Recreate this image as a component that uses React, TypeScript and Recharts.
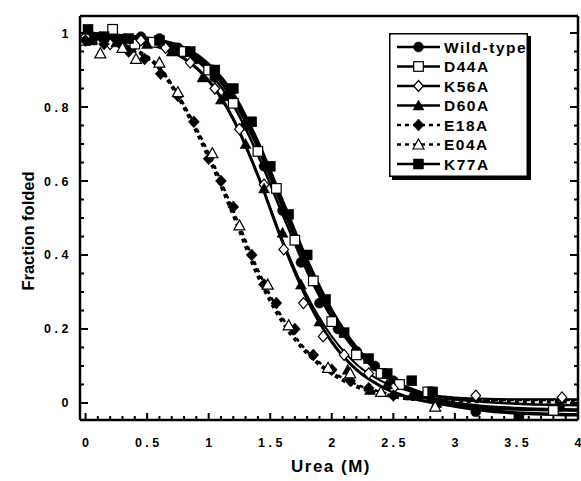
import { ComposedChart, Line, Scatter, XAxis, YAxis, Legend, Label } from 'recharts'

const FONT = '"Liberation Sans", Arial, Helvetica, sans-serif'

const CURVE_X = [0, 0.2, 0.4, 0.6, 0.8, 1.0, 1.2, 1.4, 1.6, 1.8, 2.0, 2.2, 2.4, 2.6, 2.8, 3.0, 3.2, 3.5, 4.0]

const WT_CURVE = [0.995, 0.99, 0.985, 0.975, 0.955, 0.905, 0.82, 0.69, 0.53, 0.37, 0.24, 0.145, 0.082, 0.042, 0.015, 0.0, -0.008, -0.014, -0.018]
const D44A_CURVE = [0.99, 0.988, 0.982, 0.972, 0.95, 0.895, 0.805, 0.67, 0.51, 0.355, 0.23, 0.14, 0.08, 0.045, 0.022, 0.01, 0.004, -0.002, -0.006]
const K56A_CURVE = [0.985, 0.98, 0.975, 0.96, 0.93, 0.87, 0.765, 0.615, 0.44, 0.29, 0.18, 0.105, 0.06, 0.035, 0.022, 0.015, 0.012, 0.01, 0.01]
const D60A_CURVE = [0.99, 0.985, 0.978, 0.963, 0.932, 0.872, 0.768, 0.615, 0.435, 0.28, 0.165, 0.09, 0.045, 0.018, 0.002, -0.008, -0.013, -0.017, -0.02]
const E18A_CURVE = [0.985, 0.975, 0.955, 0.905, 0.8, 0.665, 0.51, 0.345, 0.22, 0.135, 0.08, 0.045, 0.025, 0.013, 0.008, 0.005, 0.005, 0.004, 0.004]
const E04A_CURVE = [0.975, 0.968, 0.95, 0.905, 0.805, 0.675, 0.52, 0.36, 0.23, 0.14, 0.085, 0.05, 0.03, 0.018, 0.012, 0.01, 0.009, 0.008, 0.008]
const K77A_CURVE = [1.0, 0.995, 0.99, 0.98, 0.96, 0.915, 0.835, 0.705, 0.545, 0.385, 0.25, 0.15, 0.085, 0.04, 0.01, -0.008, -0.018, -0.027, -0.032]

// measured points [urea, fraction folded]
const WT_POINTS: [number, number][] = [
  [0.05, 0.99], [0.15, 0.985], [0.3, 0.98], [0.45, 0.99], [0.6, 0.985], [0.75, 0.96], [0.9, 0.93],
  [1.05, 0.88], [1.15, 0.83], [1.3, 0.75], [1.45, 0.64], [1.6, 0.52], [1.75, 0.38], [1.9, 0.27],
  [2.05, 0.2], [2.2, 0.14], [2.35, 0.1], [2.5, 0.06], [2.7, 0.02], [3.17, -0.024], [3.85, -0.01],
]
const D44A_POINTS: [number, number][] = [
  [0.0, 0.98], [0.22, 1.01], [0.4, 0.97], [0.55, 0.975], [0.8, 0.95], [1.0, 0.9], [1.2, 0.81],
  [1.4, 0.68], [1.55, 0.58], [1.7, 0.44], [1.85, 0.33], [2.0, 0.22], [2.2, 0.13], [2.4, 0.08],
  [2.55, 0.05], [2.78, 0.03], [3.8, -0.02],
]
const K56A_POINTS: [number, number][] = [
  [0.0, 0.99], [0.2, 0.97], [0.45, 0.98], [0.65, 0.96], [0.85, 0.92], [1.05, 0.85], [1.25, 0.74],
  [1.45, 0.59], [1.61, 0.415], [1.77, 0.27], [1.93, 0.18], [2.1, 0.13], [2.3, 0.08], [2.5, 0.04],
  [3.17, 0.02], [3.87, 0.015],
]
const D60A_POINTS: [number, number][] = [
  [0.05, 0.98], [0.25, 0.975], [0.5, 0.97], [0.7, 0.95], [0.95, 0.88], [1.1, 0.82], [1.3, 0.7],
  [1.45, 0.58], [1.6, 0.46], [1.75, 0.32], [1.9, 0.22], [2.13, 0.09], [2.31, 0.035], [2.45, 0.05],
  [2.65, 0.02], [2.85, 0.0],
]
const E18A_POINTS: [number, number][] = [
  [0.0, 0.98], [0.15, 0.97], [0.35, 0.95], [0.48, 0.93], [0.61, 0.89], [0.75, 0.83], [0.88, 0.76],
  [1.0, 0.66], [1.1, 0.6], [1.2, 0.53], [1.35, 0.4], [1.45, 0.32], [1.55, 0.27], [1.7, 0.2],
  [1.85, 0.13], [2.0, 0.09], [2.15, 0.06], [2.3, 0.04], [2.5, 0.02],
]
const E04A_POINTS: [number, number][] = [
  [0.12, 0.945], [0.3, 0.96], [0.41, 0.93], [0.6, 0.92], [0.75, 0.84], [1.03, 0.675], [1.25, 0.48],
  [1.48, 0.32], [1.65, 0.21], [1.97, 0.095], [2.15, 0.08], [2.4, 0.03], [2.84, -0.01],
]
const K77A_POINTS: [number, number][] = [
  [0.02, 1.01], [0.15, 0.99], [0.35, 0.985], [0.6, 0.98], [0.85, 0.95], [1.05, 0.9], [1.2, 0.85],
  [1.35, 0.76], [1.5, 0.64], [1.65, 0.51], [1.8, 0.4], [1.95, 0.28], [2.1, 0.19], [2.3, 0.12],
  [2.45, 0.08], [2.65, 0.06], [2.82, 0.03], [3.52, -0.04],
]

const X_TICKS = Array.from({ length: 41 }, (_, i) => i / 10)
const Y_TICKS = Array.from({ length: 21 }, (_, i) => i / 20)

type Kind = 'circleFilled' | 'squareOpen' | 'diamondOpen' | 'triangleFilled' | 'diamondFilled' | 'triangleOpen' | 'squareFilled'

const SERIES: { name: string; curve: number[]; points: [number, number][]; marker: Kind; width: number; dash?: string }[] = [
  { name: 'Wild-type', curve: WT_CURVE, points: WT_POINTS, marker: 'circleFilled', width: 3 },
  { name: 'D44A', curve: D44A_CURVE, points: D44A_POINTS, marker: 'squareOpen', width: 2.5 },
  { name: 'K56A', curve: K56A_CURVE, points: K56A_POINTS, marker: 'diamondOpen', width: 2 },
  { name: 'D60A', curve: D60A_CURVE, points: D60A_POINTS, marker: 'triangleFilled', width: 3 },
  { name: 'E18A', curve: E18A_CURVE, points: E18A_POINTS, marker: 'diamondFilled', width: 4, dash: '4 4' },
  { name: 'E04A', curve: E04A_CURVE, points: E04A_POINTS, marker: 'triangleOpen', width: 2.5, dash: '4 4' },
  { name: 'K77A', curve: K77A_CURVE, points: K77A_POINTS, marker: 'squareFilled', width: 3.5 },
]

function Marker({ cx, cy, kind }: { cx: number; cy: number; kind: Kind }) {
  const open = { fill: '#fff', stroke: '#000', strokeWidth: 1.2 }
  const solid = { fill: '#000', stroke: '#000', strokeWidth: 0.5 }
  switch (kind) {
    case 'circleFilled':
      return <circle cx={cx} cy={cy} r={5} {...solid} />
    case 'squareOpen':
      return <rect x={cx - 4.8} y={cy - 4.8} width={9.6} height={9.6} {...open} />
    case 'squareFilled':
      return <rect x={cx - 5} y={cy - 5} width={10} height={10} {...solid} />
    case 'diamondOpen':
      return <polygon points={`${cx},${cy - 5.5} ${cx + 4.8},${cy} ${cx},${cy + 5.5} ${cx - 4.8},${cy}`} {...open} />
    case 'diamondFilled':
      return <polygon points={`${cx},${cy - 6} ${cx + 5.5},${cy} ${cx},${cy + 6} ${cx - 5.5},${cy}`} {...solid} />
    case 'triangleFilled':
      return <polygon points={`${cx},${cy - 5.5} ${cx + 5.5},${cy + 4.5} ${cx - 5.5},${cy + 4.5}`} {...solid} />
    case 'triangleOpen':
      return <polygon points={`${cx},${cy - 5.5} ${cx + 5.5},${cy + 4.5} ${cx - 5.5},${cy + 4.5}`} {...open} />
  }
  return null
}

const isMajorX = (v: number) => Math.abs(v * 2 - Math.round(v * 2)) < 1e-6
const isMajorY = (v: number) => Math.abs(v * 5 - Math.round(v * 5)) < 1e-6
const fmt = (v: number) => String(Math.round(v * 10) / 10)

const tickText = { fontFamily: FONT, fontSize: 12.5, fontWeight: 700, letterSpacing: 3.5, fill: '#000' }

// ticks point into the plot on every side, labels only on bottom/left
function BottomTick({ x, y, payload }: any) {
  const major = isMajorX(payload.value)
  return (
    <g>
      <line x1={x} x2={x} y1={y} y2={y - (major ? 7 : 4)} stroke="#000" strokeWidth={2} />
      {major && (
        <text x={x + 1.75} y={y + 27} textAnchor="middle" {...tickText}>{fmt(payload.value)}</text>
      )}
    </g>
  )
}
function TopTick({ x, y, payload }: any) {
  const major = isMajorX(payload.value)
  return <line x1={x} x2={x} y1={y} y2={y + (major ? 7 : 4)} stroke="#000" strokeWidth={2} />
}
function LeftTick({ x, y, payload }: any) {
  const major = isMajorY(payload.value)
  return (
    <g>
      <line x1={x} x2={x + (major ? 8 : 4)} y1={y} y2={y} stroke="#000" strokeWidth={2} />
      {major && (
        <text x={x - 8} y={y + 4.5} textAnchor="end" {...tickText}>{fmt(payload.value)}</text>
      )}
    </g>
  )
}
function RightTick({ x, y, payload }: any) {
  const major = isMajorY(payload.value)
  return <line x1={x} x2={x - (major ? 8 : 4)} y1={y} y2={y} stroke="#000" strokeWidth={2} />
}

function LegendBox() {
  return (
    <svg width={145} height={150} style={{ display: 'block' }}>
      <rect x={3} y={3} width={139} height={144} fill="#000" />
      <rect x={0.75} y={0.75} width={137.5} height={142.5} fill="#fff" stroke="#000" strokeWidth={1.5} />
      {SERIES.map((s, i) => {
        const cy = 14 + i * 19.5
        return (
          <g key={s.name}>
            <line x1={8} x2={51} y1={cy} y2={cy} stroke="#000" strokeWidth={2.4} strokeDasharray={s.dash} />
            <Marker cx={29.5} cy={cy} kind={s.marker} />
            <text x={55} y={cy + 5.5} fontFamily={FONT} fontSize={15.5} fontWeight={700} letterSpacing={1.5}>
              {s.name}
            </text>
          </g>
        )
      })}
    </svg>
  )
}

export default function App() {
  const axisLine = { stroke: '#000', strokeWidth: 2.5 }
  return (
    <div style={{ position: 'absolute', left: 0, top: 0, background: '#fff', width: 581, height: 481 }}>
      <ComposedChart width={581} height={481} margin={{ top: 0, right: 0, bottom: 0, left: 0 }}>
        <XAxis
          dataKey="x" type="number" domain={[-0.045, 4]} ticks={X_TICKS} interval={0}
          height={61} tickSize={0} tickMargin={0} tickLine={false} axisLine={axisLine}
          tick={<BottomTick />} allowDataOverflow
          label={{
            content: () => (
              <text x={331} y={472} textAnchor="middle" fontFamily={FONT} fontSize={17} fontWeight={700} letterSpacing={1.5}>
                Urea (M)
              </text>
            ),
          }}
        />
        <XAxis
          xAxisId="top" orientation="top" type="number" domain={[-0.045, 4]} ticks={X_TICKS} interval={0}
          height={16} tickSize={0} tickMargin={0} tickLine={false} axisLine={axisLine} tick={<TopTick />}
          allowDataOverflow
        />
        <YAxis
          type="number" domain={[-0.046, 1.046]} ticks={Y_TICKS} interval={0} width={80}
          tickSize={0} tickMargin={0} tickLine={false} axisLine={axisLine} tick={<LeftTick />}
          allowDataOverflow
        >
          <Label
            content={() => (
              <text x={34} y={231} textAnchor="middle" transform="rotate(-90 34 231)"
                fontFamily={FONT} fontSize={16.5} fontWeight={700}>
                Fraction folded
              </text>
            )}
          />
        </YAxis>
        <YAxis
          yAxisId="right" orientation="right" type="number" domain={[-0.046, 1.046]} ticks={Y_TICKS}
          interval={0} width={3} tickSize={0} tickMargin={0} tickLine={false} axisLine={axisLine}
          tick={<RightTick />} allowDataOverflow
        />
        {SERIES.map((s) => (
          <Line
            key={s.name + '-fit'}
            data={CURVE_X.map((x, i) => ({ x, y: s.curve[i] }))}
            dataKey="y" type="monotone" stroke="#000" strokeWidth={s.width}
            strokeDasharray={s.dash} dot={false} activeDot={false}
            isAnimationActive={false} legendType="none"
          />
        ))}
        {SERIES.map((s) => (
          <Scatter
            key={s.name + '-pts'}
            name={s.name}
            data={s.points.map(([x, y]) => ({ x, y }))}
            dataKey="y"
            isAnimationActive={false}
            shape={(p: any) => <Marker cx={p.cx} cy={p.cy} kind={s.marker} />}
          />
        ))}
        <Legend
          layout="vertical" align="center" verticalAlign="middle"
          wrapperStyle={{ left: 389, top: 33, width: 145, height: 150 }}
          content={() => <LegendBox />}
        />
      </ComposedChart>
    </div>
  )
}
